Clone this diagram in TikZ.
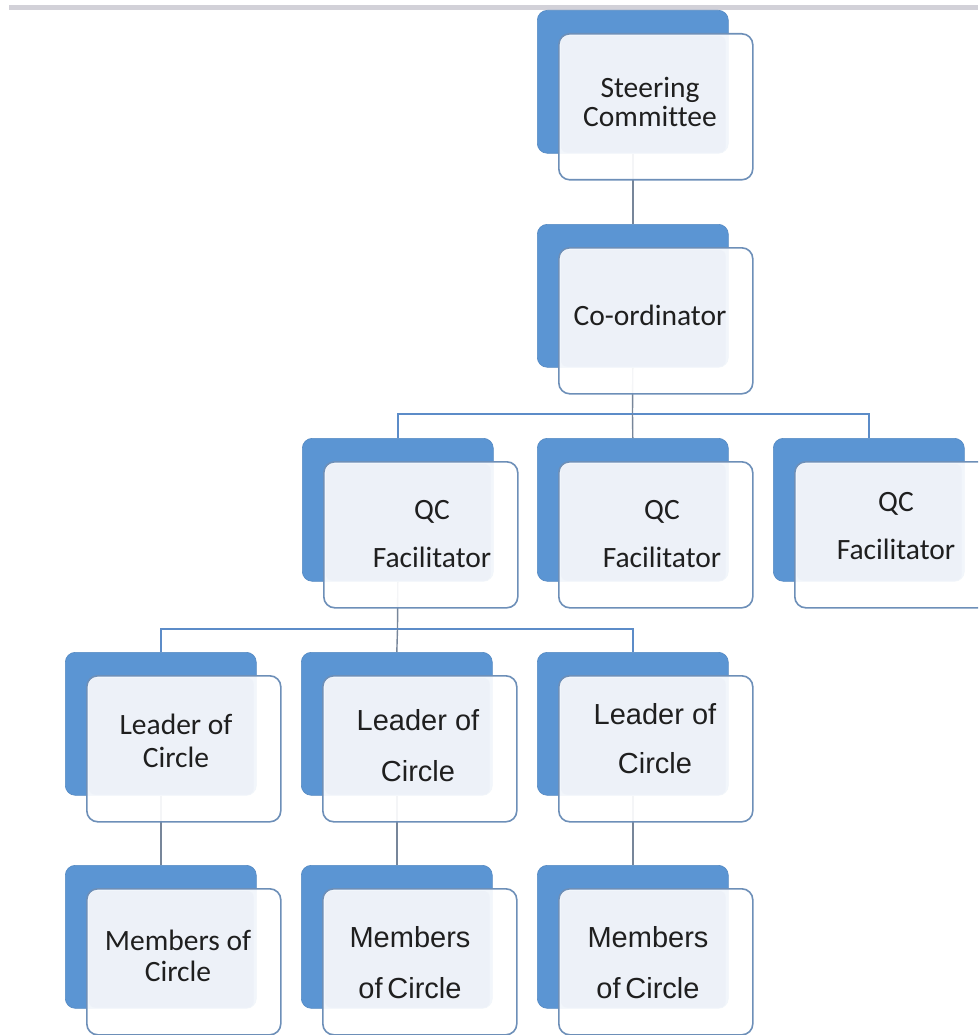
\documentclass[tikz,border=0pt]{standalone}
\usepackage{fontspec}
\setmainfont{Carlito}[Ligatures=NoCommon]
\newfontfamily\arialfont{Liberation Sans}
\usetikzlibrary{positioning,backgrounds}
\definecolor{boxblue}{HTML}{5B95D3}
\definecolor{edgeblue}{HTML}{6D8FB8}
\definecolor{paneblue}{HTML}{EDF1F8}
\definecolor{barblue}{HTML}{5C8CC8}
\definecolor{linegray}{HTML}{77869A}
\definecolor{topgray}{HTML}{D2D1D8}
\tikzset{
  backbox/.style={
    rectangle,
    rounded corners=10pt,
    fill=boxblue,
    draw=boxblue!92!black, line width=0.6pt,
    minimum width=191pt,
    minimum height=143pt,
    inner sep=0pt,
    anchor=north west},
  frontbox/.style={
    rectangle,
    rounded corners=11pt,
    fill=white, fill opacity=0.92,
    draw=edgeblue, line width=1.6pt,
    minimum width=194pt,
    minimum height=146pt,
    inner sep=0pt},
  pane/.style={fill=paneblue, rounded corners=6pt},
  boxtext/.style={align=center, inner sep=0pt, text=black!88},
  calib/.style={font=\fontsize{29.5}{#1}\selectfont},
  arial/.style={font=\arialfont\fontsize{29}{#1}\selectfont},
  conn/.style={draw=linegray, line width=1.4pt},
  bar/.style={draw=barblue, line width=2pt},
}

\begin{document}
\begin{tikzpicture}[x=1pt, y=-1pt]
  \useasboundingbox (0,0) rectangle (978,1035);
  \clip (0,0) rectangle (978,1035);
  \fill[topgray] (9,5) rectangle (978,10);

  % boxes: back plate, front card, text pane
  \foreach \n/\x/\y in {sc/537/10, co/537/224,
      qa/302/438, qb/537/438, qc/773/438,
      la/65/652, lb/301/652, lc/537/652,
      ma/65/865, mb/301/865, mc/537/865}{
    \node[backbox] (\n-b) at (\x,\y) {};
    \node[frontbox, below right=23pt and 21pt of \n-b.north west] (\n-f) {};
    \fill[pane] ([shift={(3,3)}]\n-f.north west) rectangle ([shift={(-3,-1)}]\n-b.south east);
  }

  \node[boxtext, calib=29] (sc-t) at (650,101.5) {Steering\\Committee};
  \node[boxtext, calib=29] (co-t) at (650,315) {Co-ordinator};
  \node[boxtext, calib=48] (qa-t) at (432,534) {QC\\Facilitator};
  \node[boxtext, calib=48] (qb-t) at (662,534) {QC\\Facilitator};
  \node[boxtext, calib=48] (qc-t) at (896,526) {QC\\Facilitator};
  \node[boxtext, calib=33] (la-t) at (176,740.5) {Leader of\\Circle};
  \node[boxtext, arial=51] (lb-t) at (418,745.5) {Leader of\\Circle};
  \node[boxtext, arial=49] (lc-t) at (655,738.5) {Leader of\\Circle};
  \node[boxtext, calib=31] (ma-t) at (178,955.5) {Members of\\Circle};
  \node[boxtext, arial=51] (mb-t) at (410,962.5) {Members\\of\,Circle};
  \node[boxtext, arial=51] (mc-t) at (648,962.5) {Members\\of\,Circle};

  % connectors
  \begin{scope}[on background layer]
    \coordinate (j1) at (632.5,414);
    \coordinate (j2) at (397.5,629);
    \draw[conn] (sc-b.south) -- (co-b.north);
    \draw[conn] (co-b.south) -- (j1);
    \draw[bar] (qa-b.north) |- (j1) -| (qc-b.north);
    \draw[conn] (j1) -- (qb-b.north);
    \draw[conn] (qa-b.south) -- (j2);
    \draw[bar] (la-b.north) |- (j2) -| (lc-b.north);
    \draw[conn] (j2) -- (lb-b.north);
    \foreach \r in {a,b,c}
      \draw[conn] (l\r-b.south) -- (m\r-b.north);
  \end{scope}
\end{tikzpicture}
\end{document}
